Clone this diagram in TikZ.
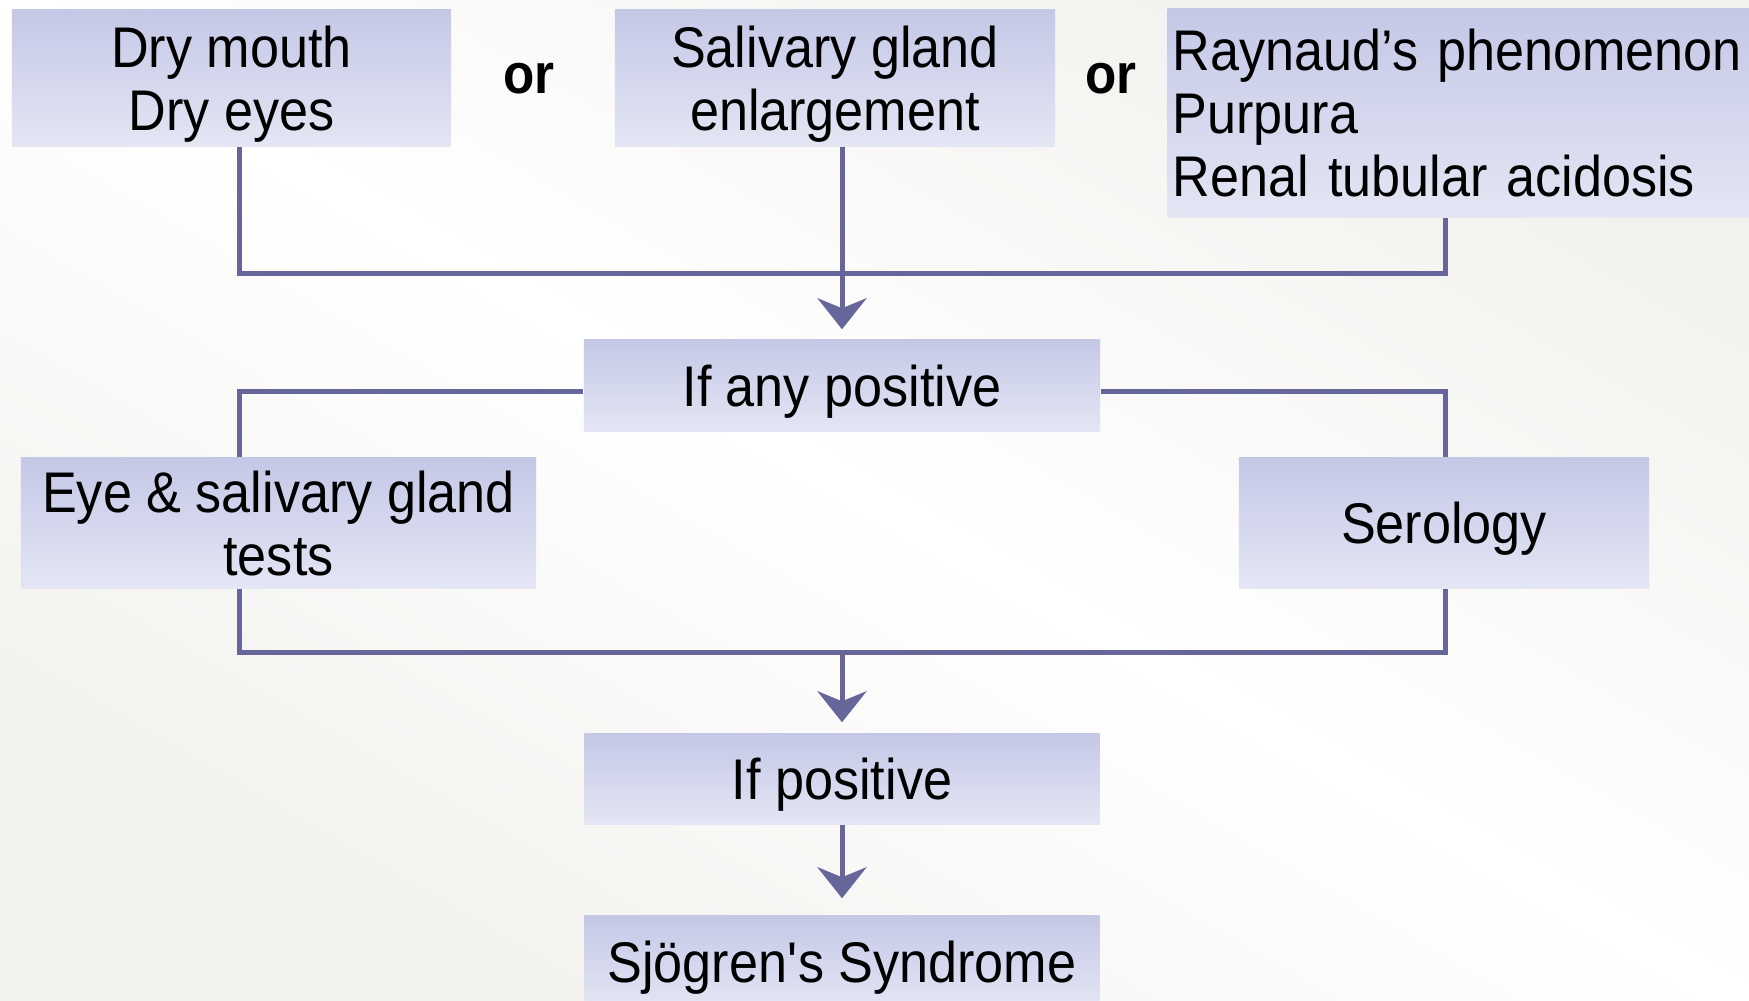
\documentclass[tikz,border=0pt]{standalone}
\usepackage{fontspec}
\setmainfont[FakeStretch=0.91]{Liberation Sans}
\usetikzlibrary{arrows.meta, positioning}

\definecolor{linecol}{RGB}{102,102,154}
\definecolor{boxtop}{RGB}{196,200,230}
\definecolor{boxbot}{RGB}{228,230,244}
\definecolor{bggray}{RGB}{242,241,237}

\begin{document}
\begin{tikzpicture}[x=0.01cm, y=-0.01cm,
	every node/.style={font=\fontsize{16.3}{18}\selectfont},
	box/.style={rectangle, inner sep=0pt, top color=boxtop, bottom color=boxbot, align=center},
	oneline/.style={text height=11.7pt, text depth=0pt},
	lines/.style={text depth=0pt},
	orword/.style={font=\fontsize{16}{18}\selectfont\bfseries},
	link/.style={draw=linecol, line width=0.05cm},
	arr/.style={link, -{Stealth[length=0.31cm, width=0.49cm, inset=0.1cm]}}]

			% Draw the background
			\clip (0,0) rectangle (1749,1000);
			\fill[bggray] (0,0) rectangle (1749,1000);
			\shade[left color=bggray, right color=bggray, middle color=white, shading angle=-30] (0,0) rectangle (1749,1000);

			% Draw the symptom boxes
			\node[box, lines, minimum width=4.39cm, minimum height=1.36cm] (dry) at (231.5,78) {Dry mouth\\Dry eyes};
			\node[box, lines, minimum width=4.4cm, minimum height=1.36cm] (sal) at (835,78) {Salivary gland\\enlargement};
			\node[box, anchor=west, minimum height=2.08cm, text width=5.9cm, align=left, inner xsep=0.05cm,
				text height=11.7pt, text depth=36pt] (ray) at (1167,113) {Raynaud’s phenomenon\\Purpura\\Renal tubular acidosis};

			\node[orword] (or1) at (529,79) {or};
			\node[orword] (or2) at (1111,79) {or};

			% Draw the test boxes
			\node[box, oneline, minimum width=5.16cm, minimum height=0.91cm] (anypos) at (842,385.5) {If any positive};
			\node[box, lines, minimum width=5.15cm, minimum height=1.3cm] (eye) at (278.5,523) {Eye \& salivary gland\\tests};
			\node[box, oneline, minimum width=4.1cm, minimum height=1.3cm] (sero) at (1444,523) {Serology};
			\node[box, oneline, minimum width=5.15cm, minimum height=0.9cm] (pos) at (842,779) {If positive};
			\node[box, oneline, minimum width=5.15cm, minimum height=0.91cm] (sjo) at (842,961.5) {Sjögren\textquotesingle s Syndrome};

			% Where the wires run
			\coordinate (lx) at (239,0);
			\coordinate (rx) at (1445,0);
			\coordinate (bus1) at (842,273);
			\coordinate (side) at (842,391);
			\coordinate (bus2) at (842,652);

			% Draw the wires between the boxes
			\draw[link] (dry.south -| lx) |- (bus1 -| rx) -- (ray.south -| rx);
			\draw[arr, shorten >=0.1cm] (sal.south -| bus1) -- (anypos.north);
			\draw[link] (anypos.west |- side) -| (eye.north -| lx);
			\draw[link] (anypos.east |- side) -| (sero.north -| rx);
			\draw[link] (eye.south -| lx) |- (bus2 -| rx) -- (sero.south -| rx);
			\draw[arr, shorten >=0.11cm] (bus2) -- (pos.north);
			\draw[arr, shorten >=0.17cm] (pos.south) -- (sjo.north);

\end{tikzpicture}
\end{document}
